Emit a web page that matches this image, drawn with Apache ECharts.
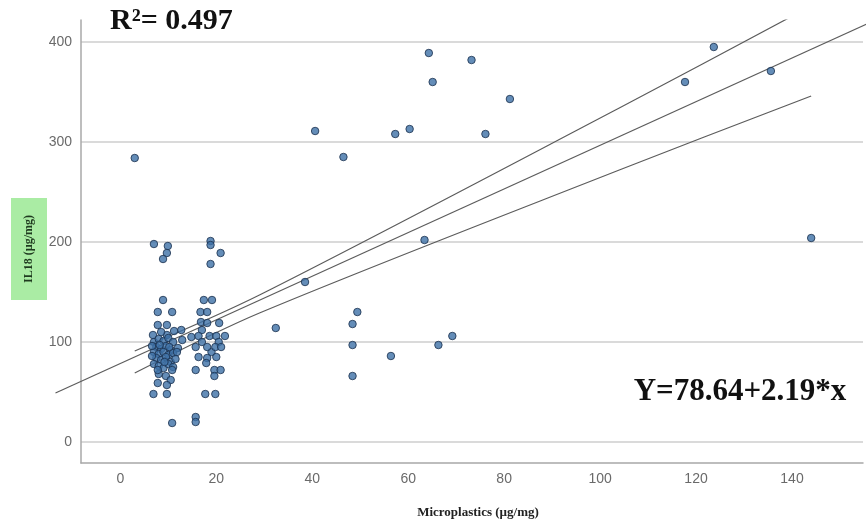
<!DOCTYPE html>
<html>
<head>
<meta charset="utf-8">
<script src="https://cdn.jsdelivr.net/npm/echarts@6/dist/echarts.min.js"></script>
<style>
  html, body { margin: 0; padding: 0; background: #ffffff; }
  #chart { width: 866px; height: 526px; }
</style>
</head>
<body>
<div id="chart"></div>
<script>
// Tick labels shown on each axis
const xTicks = [0, 20, 40, 60, 80, 100, 120, 140];
const yTicks = [0, 100, 200, 300, 400];

// Samples around 5-13 µg/mg of microplastics
const groupLow = [
  [7, 198], [9.9, 196], [9.7, 189], [8.9, 183],
  [8.9, 142], [7.8, 130], [10.8, 130], [7.8, 117], [9.7, 117], [12.7, 112],
  [6.8, 107], [9.7, 107], [12.9, 102], [8.5, 110], [11.2, 111],
  [7, 100], [8, 103], [9, 101], [10, 104], [11, 100], [7.5, 95], [8.5, 93],
  [9.5, 96], [10.5, 92], [7, 90], [8, 88], [9, 90], [10, 87], [11, 89],
  [7.5, 84], [8.5, 82], [9.5, 85], [10.5, 80], [7, 78], [8, 76], [9, 74],
  [10, 78], [11, 75], [8, 68], [9.5, 66], [10.5, 62], [12, 94], [11.5, 83],
  [6.6, 96], [6.6, 86], [8.2, 97], [9.2, 80], [10.2, 95], [11.8, 90],
  [7.8, 72], [10.8, 72], [7.8, 59], [9.7, 57], [6.9, 48], [9.7, 48], [10.8, 19]
];

// Samples around 15-22 µg/mg
const groupMid = [
  [18.8, 201], [18.8, 197], [20.9, 189], [18.8, 178],
  [17.4, 142], [19.1, 142], [16.7, 130], [18.1, 130], [17, 112],
  [16.8, 120], [18.1, 119], [20.6, 119], [14.8, 105], [16.3, 106],
  [18.6, 106], [20, 106], [21.8, 106], [17, 100], [20.5, 100], [19, 90],
  [15.7, 95], [18.1, 95], [19.8, 95], [21, 95], [16.3, 85], [18.1, 84],
  [20, 85], [17.9, 79], [19.6, 72], [19.6, 66], [20.9, 72], [15.7, 72],
  [17.7, 48], [19.8, 48], [15.7, 25], [15.7, 20]
];

// Samples with higher microplastic content
const groupHigh = [
  [3, 284], [40.6, 311], [46.5, 285], [57.3, 308], [60.3, 313],
  [64.3, 389], [65.1, 360], [73.2, 382], [76.1, 308], [81.2, 343],
  [38.5, 160], [63.4, 202], [49.4, 130], [48.4, 118], [48.4, 97],
  [48.4, 66], [56.4, 86], [66.3, 97], [69.2, 106], [32.4, 114],
  [117.7, 360], [123.7, 395], [135.6, 371], [144, 204]
];

// Linear fit Y = 78.64 + 2.19 * x
const fitIntercept = 78.64;
const fitSlope = 2.19;
const fitRange = [-13.5, 160];

// 95% confidence bounds of the mean
const upperBound = [[3, 91], [29, 147], [104, 334], [144, 436]];
const lowerBound = [[3, 69], [29, 129], [104, 272], [144, 346]];

const fitLine = fitRange.map(x => [x, fitIntercept + fitSlope * x]);

// Axis extents (the fit line uses a wider hidden x axis with the same scale)
const xMin = -8.2, xMax = 154.8;
const xMinWide = -13.6;
const yMin = -21, yMax = 422;

const serif = '"Liberation Serif", "Times New Roman", serif';
const sans = '"Liberation Sans", Arial, sans-serif';

const pointStyle = {
  color: '#3d70a6',
  borderColor: '#1a304c',
  borderWidth: 1
};
const lineStyle = { color: '#5c5c5c', width: 1.2 };

const plotWidth = 866 - 81;
const pxPerUnit = plotWidth / (xMax - xMin);
const wideLeft = 81 - (xMin - xMinWide) * pxPerUnit;

const chart = echarts.init(document.getElementById('chart'));
chart.setOption({
  animation: false,
  backgroundColor: '#ffffff',
  grid: [
    { left: 81, right: 0, top: 20, bottom: 63, containLabel: false },
    { left: wideLeft, right: 0, top: 20, bottom: 63, containLabel: false }
  ],
  xAxis: [
    {
      type: 'value',
      gridIndex: 0,
      min: xMin,
      max: xMax,
      splitNumber: 8,
      axisLine: { show: true, onZero: false, lineStyle: { color: '#a8a8a8', width: 1.5 } },
      axisTick: { show: false },
      splitLine: { show: false },
      axisLabel: {
        margin: 9,
        color: '#6a6a6a',
        fontFamily: sans,
        fontSize: 14,
        formatter: v => (xTicks.includes(v) ? String(v) : '')
      }
    },
    {
      type: 'value',
      gridIndex: 1,
      min: xMinWide,
      max: xMax,
      show: false
    }
  ],
  yAxis: [
    {
      type: 'value',
      gridIndex: 0,
      min: yMin,
      max: yMax,
      splitNumber: 5,
      axisLine: { show: true, onZero: false, lineStyle: { color: '#a8a8a8', width: 1.5 } },
      axisTick: { show: false },
      splitLine: {
        show: true,
        showMinLine: false,
        showMaxLine: false,
        lineStyle: { color: '#dadada', width: 2 }
      },
      axisLabel: {
        margin: 9,
        color: '#6a6a6a',
        fontFamily: sans,
        fontSize: 14,
        formatter: v => (yTicks.includes(v) ? String(v) : '')
      }
    },
    {
      type: 'value',
      gridIndex: 1,
      min: yMin,
      max: yMax,
      show: false
    }
  ],
  series: [
    {
      type: 'line',
      xAxisIndex: 1,
      yAxisIndex: 1,
      data: fitLine,
      clip: true,
      showSymbol: false,
      symbol: 'none',
      lineStyle: lineStyle,
      z: 1
    },
    {
      type: 'line',
      data: upperBound,
      clip: true,
      smooth: 0.3,
      symbol: 'none',
      lineStyle: lineStyle,
      z: 1
    },
    {
      type: 'line',
      data: lowerBound,
      clip: true,
      smooth: 0.3,
      symbol: 'none',
      lineStyle: lineStyle,
      z: 1
    },
    {
      type: 'scatter',
      data: groupLow.concat(groupMid, groupHigh),
      symbolSize: 7.5,
      itemStyle: pointStyle,
      z: 3
    }
  ],
  graphic: [
    {
      type: 'text',
      x: 110,
      y: 21,
      style: {
        text: 'R²= 0.497',
        font: 'bold 30px ' + serif,
        fill: '#111111',
        align: 'left',
        verticalAlign: 'middle'
      }
    },
    {
      type: 'text',
      x: 740,
      y: 392,
      style: {
        text: 'Y=78.64+2.19*x',
        font: 'bold 31px ' + serif,
        fill: '#111111',
        align: 'center',
        verticalAlign: 'middle'
      }
    },
    {
      type: 'text',
      x: 478,
      y: 513,
      style: {
        text: 'Microplastics (µg/mg)',
        font: 'bold 13px ' + serif,
        fill: '#222222',
        align: 'center',
        verticalAlign: 'middle'
      }
    },
    {
      type: 'text',
      x: 29,
      y: 249,
      rotation: Math.PI / 2,
      style: {
        text: 'IL18 (µg/mg)',
        font: 'bold 12px ' + serif,
        fill: '#1f3a1f',
        align: 'center',
        verticalAlign: 'middle',
        backgroundColor: '#aaeca4',
        padding: [12, 17]
      }
    }
  ]
});
</script>
</body>
</html>
